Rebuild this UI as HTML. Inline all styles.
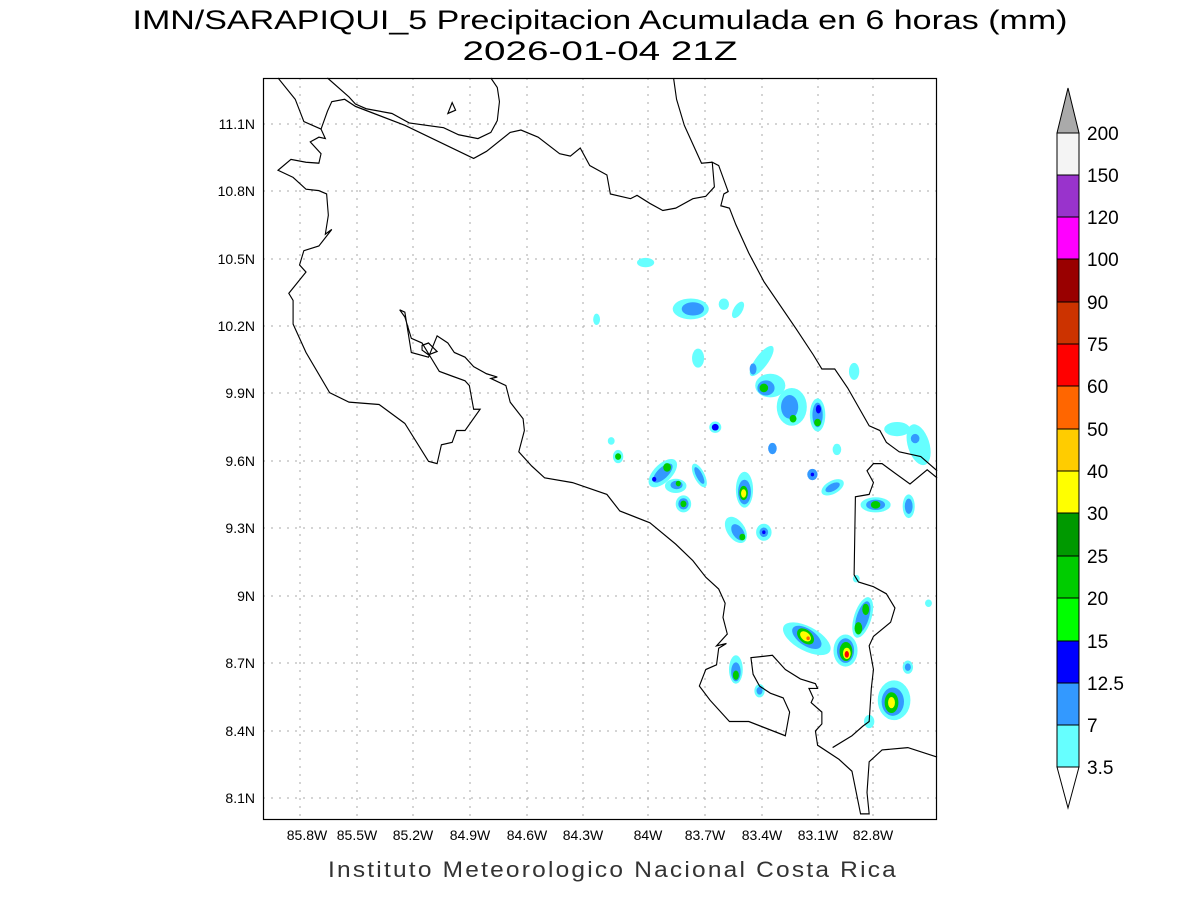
<!DOCTYPE html>
<html><head><meta charset="utf-8"><style>
body{margin:0;background:#fff;}
svg{display:block;font-family:"Liberation Sans",sans-serif;}
</style></head><body>
<svg width="1200" height="900" viewBox="0 0 1200 900">
<rect width="1200" height="900" fill="#fff"/>
<text x="600" y="29" font-size="27" text-anchor="middle" fill="#000" textLength="935" lengthAdjust="spacingAndGlyphs">IMN/SARAPIQUI_5 Precipitacion Acumulada en 6 horas (mm)</text>
<text x="600" y="60" font-size="27" text-anchor="middle" fill="#000" textLength="275" lengthAdjust="spacingAndGlyphs">2026-01-04 21Z</text>
<g stroke="#aaa" stroke-width="1" stroke-dasharray="2,6">
<line x1="300" y1="78" x2="300" y2="820"/><line x1="357" y1="78" x2="357" y2="820"/><line x1="413" y1="78" x2="413" y2="820"/><line x1="470" y1="78" x2="470" y2="820"/><line x1="527" y1="78" x2="527" y2="820"/><line x1="583" y1="78" x2="583" y2="820"/><line x1="648" y1="78" x2="648" y2="820"/><line x1="705" y1="78" x2="705" y2="820"/><line x1="762" y1="78" x2="762" y2="820"/><line x1="818" y1="78" x2="818" y2="820"/><line x1="873" y1="78" x2="873" y2="820"/>
<line x1="263" y1="124" x2="937" y2="124"/><line x1="263" y1="191" x2="937" y2="191"/><line x1="263" y1="259" x2="937" y2="259"/><line x1="263" y1="326" x2="937" y2="326"/><line x1="263" y1="393" x2="937" y2="393"/><line x1="263" y1="461" x2="937" y2="461"/><line x1="263" y1="528" x2="937" y2="528"/><line x1="263" y1="596" x2="937" y2="596"/><line x1="263" y1="663" x2="937" y2="663"/><line x1="263" y1="731" x2="937" y2="731"/><line x1="263" y1="798" x2="937" y2="798"/>
</g>
<g transform="translate(263,78) scale(0.4299,0.4732)">
<g>
<ellipse cx="890" cy="390" rx="20" ry="10" fill="#6ff"/>
<ellipse cx="995" cy="488" rx="42" ry="22" fill="#6ff"/><ellipse cx="1000" cy="488" rx="26" ry="14" fill="#39f"/>
<ellipse cx="1072" cy="478" rx="12" ry="12" fill="#6ff"/><ellipse cx="1105" cy="490" rx="10" ry="20" fill="#6ff" transform="rotate(35 1105 490)"/>
<ellipse cx="776" cy="510" rx="8" ry="12" fill="#6ff"/>
<ellipse cx="1012" cy="592" rx="14" ry="20" fill="#6ff"/>
<ellipse cx="1160" cy="598" rx="14" ry="40" fill="#6ff" transform="rotate(40 1160 598)"/><ellipse cx="1140" cy="615" rx="8" ry="12" fill="#39f"/>
<ellipse cx="1375" cy="620" rx="12" ry="18" fill="#6ff"/>
<ellipse cx="1180" cy="650" rx="35" ry="25" fill="#6ff"/><ellipse cx="1170" cy="655" rx="20" ry="16" fill="#39f"/><ellipse cx="1165" cy="655" rx="10" ry="9" fill="#0c0"/>
<ellipse cx="1230" cy="695" rx="35" ry="40" fill="#6ff"/><ellipse cx="1225" cy="695" rx="20" ry="25" fill="#39f"/><ellipse cx="1233" cy="720" rx="8" ry="8" fill="#0c0"/>
<ellipse cx="1290" cy="712" rx="18" ry="35" fill="#6ff"/><ellipse cx="1290" cy="712" rx="12" ry="26" fill="#39f"/><ellipse cx="1292" cy="700" rx="6" ry="9" fill="#00f"/><ellipse cx="1290" cy="728" rx="8" ry="8" fill="#0c0"/>
<ellipse cx="1052" cy="738" rx="14" ry="12" fill="#6ff"/><ellipse cx="1052" cy="738" rx="8" ry="7" fill="#00f"/>
<ellipse cx="1475" cy="742" rx="30" ry="15" fill="#6ff"/>
<ellipse cx="1525" cy="775" rx="25" ry="45" fill="#6ff" transform="rotate(-20 1525 775)"/><ellipse cx="1517" cy="762" rx="10" ry="10" fill="#39f"/>
<ellipse cx="810" cy="767" rx="8" ry="8" fill="#6ff"/>
<ellipse cx="1185" cy="783" rx="10" ry="12" fill="#39f"/><ellipse cx="1335" cy="785" rx="10" ry="12" fill="#6ff"/>
<ellipse cx="826" cy="800" rx="12" ry="14" fill="#6ff"/><ellipse cx="826" cy="800" rx="7" ry="7" fill="#0c0"/>
<ellipse cx="930" cy="835" rx="40" ry="20" fill="#6ff" transform="rotate(-40 930 835)"/><ellipse cx="930" cy="835" rx="28" ry="12" fill="#39f" transform="rotate(-40 930 835)"/><ellipse cx="940" cy="823" rx="9" ry="9" fill="#0c0"/><ellipse cx="910" cy="848" rx="5" ry="5" fill="#00f"/>
<ellipse cx="1015" cy="840" rx="12" ry="28" fill="#6ff" transform="rotate(-30 1015 840)"/><ellipse cx="1015" cy="840" rx="7" ry="20" fill="#39f" transform="rotate(-30 1015 840)"/>
<ellipse cx="960" cy="862" rx="25" ry="15" fill="#6ff"/><ellipse cx="962" cy="860" rx="14" ry="9" fill="#39f"/><ellipse cx="966" cy="857" rx="6" ry="6" fill="#0c0"/>
<ellipse cx="1278" cy="838" rx="12" ry="12" fill="#39f"/><ellipse cx="1278" cy="838" rx="4" ry="4" fill="#00f"/>
<ellipse cx="1325" cy="865" rx="28" ry="14" fill="#6ff" transform="rotate(-25 1325 865)"/><ellipse cx="1325" cy="865" rx="18" ry="8" fill="#39f" transform="rotate(-25 1325 865)"/>
<ellipse cx="1120" cy="870" rx="20" ry="38" fill="#6ff"/><ellipse cx="1120" cy="875" rx="15" ry="26" fill="#39f"/><ellipse cx="1118" cy="877" rx="10" ry="15" fill="#0c0"/><ellipse cx="1118" cy="878" rx="6" ry="9" fill="#ff0"/>
<ellipse cx="978" cy="900" rx="18" ry="18" fill="#6ff"/><ellipse cx="978" cy="900" rx="12" ry="12" fill="#39f"/><ellipse cx="978" cy="900" rx="7" ry="7" fill="#0c0"/>
<ellipse cx="1425" cy="902" rx="35" ry="16" fill="#6ff"/><ellipse cx="1425" cy="902" rx="22" ry="11" fill="#39f"/><ellipse cx="1425" cy="902" rx="11" ry="8" fill="#0c0"/>
<ellipse cx="1502" cy="905" rx="14" ry="25" fill="#6ff"/><ellipse cx="1502" cy="905" rx="9" ry="16" fill="#39f"/>
<ellipse cx="1100" cy="955" rx="20" ry="32" fill="#6ff" transform="rotate(-40 1100 955)"/><ellipse cx="1105" cy="960" rx="12" ry="20" fill="#39f" transform="rotate(-40 1105 960)"/><ellipse cx="1115" cy="970" rx="7" ry="7" fill="#0c0"/>
<ellipse cx="1165" cy="960" rx="18" ry="18" fill="#6ff"/><ellipse cx="1165" cy="960" rx="10" ry="10" fill="#39f"/><ellipse cx="1165" cy="960" rx="4" ry="4" fill="#00f"/>
<ellipse cx="1380" cy="1058" rx="8" ry="8" fill="#6ff"/><ellipse cx="1548" cy="1110" rx="8" ry="8" fill="#6ff"/>
<ellipse cx="1395" cy="1140" rx="20" ry="45" fill="#6ff" transform="rotate(20 1395 1140)"/><ellipse cx="1395" cy="1140" rx="14" ry="36" fill="#39f" transform="rotate(20 1395 1140)"/><ellipse cx="1402" cy="1123" rx="8" ry="12" fill="#0c0"/><ellipse cx="1385" cy="1163" rx="9" ry="13" fill="#0c0"/>
<ellipse cx="1265" cy="1185" rx="60" ry="26" fill="#6ff" transform="rotate(25 1265 1185)"/><ellipse cx="1265" cy="1182" rx="38" ry="18" fill="#39f" transform="rotate(30 1265 1182)"/><ellipse cx="1262" cy="1180" rx="22" ry="14" fill="#0c0" transform="rotate(35 1262 1180)"/><ellipse cx="1262" cy="1180" rx="14" ry="9" fill="#ff0" transform="rotate(35 1262 1180)"/><circle cx="1268" cy="1184" r="4" fill="#f60"/>
<ellipse cx="1355" cy="1210" rx="28" ry="34" fill="#6ff"/><ellipse cx="1355" cy="1210" rx="20" ry="26" fill="#39f"/><ellipse cx="1356" cy="1212" rx="15" ry="20" fill="#0c0"/><ellipse cx="1358" cy="1216" rx="9" ry="12" fill="#ff0"/><ellipse cx="1358" cy="1218" rx="5" ry="7" fill="#f00"/>
<ellipse cx="1100" cy="1250" rx="16" ry="30" fill="#6ff"/><ellipse cx="1100" cy="1255" rx="11" ry="20" fill="#39f"/><ellipse cx="1100" cy="1262" rx="7" ry="10" fill="#0c0"/>
<ellipse cx="1500" cy="1245" rx="12" ry="14" fill="#6ff"/><ellipse cx="1500" cy="1245" rx="7" ry="8" fill="#39f"/>
<ellipse cx="1155" cy="1295" rx="12" ry="14" fill="#6ff"/><ellipse cx="1155" cy="1295" rx="7" ry="8" fill="#39f"/>
<ellipse cx="1468" cy="1315" rx="38" ry="42" fill="#6ff"/><ellipse cx="1465" cy="1318" rx="26" ry="30" fill="#39f"/><ellipse cx="1462" cy="1320" rx="16" ry="22" fill="#0c0"/><ellipse cx="1462" cy="1320" rx="8" ry="12" fill="#ff0"/>
<ellipse cx="1410" cy="1360" rx="12" ry="14" fill="#6ff"/>
</g>
<g fill="none" stroke="#000" stroke-width="2.6">
<polyline points="35,0 75,45 95,92 135,108 150,70 160,50 190,45 215,60 330,100 490,170 520,155 575,115 600,110 640,125 690,160 715,165 738,148 760,185 800,205 808,245 855,255 870,248 900,265 930,280 960,275 1000,255 1030,250 1050,230 1045,178 1060,185 1082,240 1072,245 1065,270 1085,275 1100,310 1130,370 1165,430 1240,530 1280,585 1300,615 1330,615 1360,655 1410,735 1435,745 1450,770 1480,790 1530,800 1568,830"/>
<polyline points="955,0 962,45 980,100 1020,180 1045,178"/>
<polyline points="150,0 200,40 215,55 240,65 300,75 340,95 420,105 455,120 500,128 530,115 545,90 550,50 545,20 530,0"/>
<polygon points="430,75 440,52 448,68"/>
<polyline points="135,108 145,128 130,125 110,135 135,160 130,180 100,178 65,172 35,195 70,210 100,235 130,238 148,245 152,290 145,330 160,320 130,355 95,365 85,395 100,410 60,455 70,470 70,520 100,580 155,665 200,685 270,690 330,730 385,810 405,815 415,775 440,770 450,745 470,745 505,700 490,700 480,650 470,640 440,630 410,620 390,590 370,560 345,550 330,505 318,490 330,495 345,580 385,590 405,545 430,560 445,580 470,590 490,610 520,625 545,632 530,635 565,650 575,685 605,720 608,745 595,790 625,820 655,845 720,855 800,880 830,915 900,940 960,985 1000,1020 1030,1055 1060,1080 1075,1110 1070,1140 1080,1175 1055,1200 1078,1195 1060,1205 1055,1240 1030,1250 1015,1285 1040,1315 1085,1360 1130,1360 1215,1390 1225,1340 1210,1310 1180,1300 1155,1285 1140,1260 1135,1225 1185,1220 1215,1250 1250,1270 1285,1280 1290,1290 1270,1290 1280,1310 1275,1320 1300,1340 1300,1365 1285,1380 1290,1410 1340,1440 1370,1465 1390,1555 1410,1555 1405,1510 1410,1445 1440,1420 1500,1415 1568,1435"/>
<polygon points="370,565 385,560 405,578 385,585 370,575"/>
<polyline points="1325,1415 1370,1390 1395,1370 1410,1360 1415,1290 1420,1250 1410,1200 1420,1180 1460,1150 1470,1120 1450,1090 1420,1075 1385,1065 1375,1050 1378,885 1410,880 1420,855 1405,830 1420,815 1440,815 1470,835 1505,858 1545,828 1568,845"/>
</g>
</g>
<rect x="263.5" y="78.5" width="673" height="741" fill="none" stroke="#000" stroke-width="1.2"/>
<g font-size="14" fill="#000" text-anchor="end">
<text x="255" y="129">11.1N</text><text x="255" y="196">10.8N</text><text x="255" y="264">10.5N</text><text x="255" y="331">10.2N</text><text x="255" y="398">9.9N</text><text x="255" y="466">9.6N</text><text x="255" y="533">9.3N</text><text x="255" y="601">9N</text><text x="255" y="668">8.7N</text><text x="255" y="736">8.4N</text><text x="255" y="803">8.1N</text>
</g>
<g font-size="14" fill="#000" text-anchor="middle">
<text x="307" y="840">85.8W</text><text x="357" y="840">85.5W</text><text x="413" y="840">85.2W</text><text x="470" y="840">84.9W</text><text x="527" y="840">84.6W</text><text x="583" y="840">84.3W</text><text x="648" y="840">84W</text><text x="705" y="840">83.7W</text><text x="762" y="840">83.4W</text><text x="818" y="840">83.1W</text><text x="873" y="840">82.8W</text>
</g>
<text x="613" y="877" font-size="22" text-anchor="middle" fill="#333" letter-spacing="2" textLength="570" lengthAdjust="spacingAndGlyphs">Instituto Meteorologico Nacional Costa Rica</text>
<g stroke="#000" stroke-width="1">
<polygon points="1057,767 1079,767 1068,808" fill="#fff"/>
<rect x="1057" y="725" width="22" height="42" fill="#6ff"/>
<rect x="1057" y="683" width="22" height="42" fill="#39f"/>
<rect x="1057" y="641" width="22" height="42" fill="#00f"/>
<rect x="1057" y="598" width="22" height="43" fill="#0f0"/>
<rect x="1057" y="556" width="22" height="42" fill="#0c0"/>
<rect x="1057" y="513" width="22" height="43" fill="#090"/>
<rect x="1057" y="471" width="22" height="42" fill="#ff0"/>
<rect x="1057" y="429" width="22" height="42" fill="#fc0"/>
<rect x="1057" y="386" width="22" height="43" fill="#f60"/>
<rect x="1057" y="344" width="22" height="42" fill="#f00"/>
<rect x="1057" y="302" width="22" height="42" fill="#c30"/>
<rect x="1057" y="259" width="22" height="43" fill="#900"/>
<rect x="1057" y="217" width="22" height="42" fill="#f0f"/>
<rect x="1057" y="175" width="22" height="42" fill="#93c"/>
<rect x="1057" y="133" width="22" height="42" fill="#f4f4f4"/>
<polygon points="1057,133 1079,133 1068,88" fill="#aaa"/>
</g>
<g font-size="19" fill="#000">
<text x="1087" y="774">3.5</text><text x="1087" y="732">7</text><text x="1087" y="690">12.5</text><text x="1087" y="648">15</text><text x="1087" y="605">20</text><text x="1087" y="563">25</text><text x="1087" y="520">30</text><text x="1087" y="478">40</text><text x="1087" y="436">50</text><text x="1087" y="393">60</text><text x="1087" y="351">75</text><text x="1087" y="309">90</text><text x="1087" y="266">100</text><text x="1087" y="224">120</text><text x="1087" y="182">150</text><text x="1087" y="140">200</text>
</g>
</svg>
</body></html>
